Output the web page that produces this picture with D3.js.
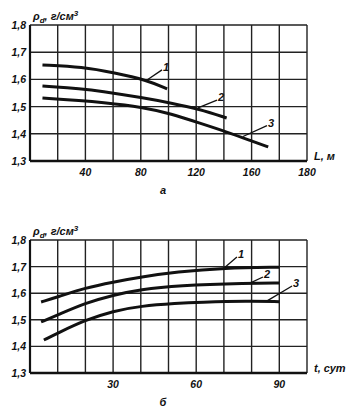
<!DOCTYPE html>
<html>
<head>
<meta charset="utf-8">
<script src="https://cdn.jsdelivr.net/npm/d3@7"></script>
<style>
  body { margin: 0; background: #fff; }
  svg text { font-family: "Liberation Sans", Arial, sans-serif; font-style: italic; font-weight: bold; fill: #111; }
</style>
</head>
<body>
<svg id="chart" width="354" height="413"></svg>
<script>
// chart a: density vs L, m
const topX1 = [9, 38, 61, 84, 99];
const topY1 = [1.653, 1.646, 1.624, 1.598, 1.565];
const topX2 = [9, 38, 50, 82, 102, 122, 142];
const topY2 = [1.576, 1.565, 1.558, 1.532, 1.513, 1.491, 1.458];
const topX3 = [9, 38, 50, 82, 102, 122, 142, 162, 172];
const topY3 = [1.532, 1.521, 1.516, 1.498, 1.473, 1.44, 1.407, 1.37, 1.352];
const topTickVals = [40, 80, 120, 160, 200];
const topTickLabels = ["40", "80", "120", "160", "180"];
// callouts: [x1, y1, x2, y2, label]
const topCallouts = [
  [84.5, 1.598, 95.3, 1.635, "1"],
  [121.3, 1.495, 135, 1.524, "2"],
  [153.8, 1.39, 171.1, 1.43, "3"],
];

// chart б: density vs t, days
const botX1 = [4, 10, 20, 30, 40, 53, 70, 90];
const botY1 = [1.567, 1.586, 1.62, 1.642, 1.661, 1.68, 1.695, 1.698];
const botX2 = [4, 10, 20, 30, 40, 53, 79, 90];
const botY2 = [1.492, 1.518, 1.563, 1.593, 1.614, 1.629, 1.638, 1.638];
const botX3 = [5, 10, 20, 30, 40, 53, 61, 79, 90];
const botY3 = [1.424, 1.45, 1.499, 1.533, 1.552, 1.562, 1.566, 1.571, 1.568];
const botTickVals = [30, 60, 90];
const botTickLabels = ["30", "60", "90"];
const botCallouts = [
  [70.4, 1.698, 74.7, 1.736, "1"],
  [79.4, 1.638, 84.1, 1.661, "2"],
  [85.6, 1.571, 94.6, 1.627, "3"],
];

const yTicks = [1.3, 1.4, 1.5, 1.6, 1.7, 1.8];

const svg = d3.select("#chart");

function drawPanel(cfg) {
  const g = svg.append("g");
  const x = d3.scaleLinear().domain(cfg.xDomain).range([30, 307]);
  const y = d3.scaleLinear().domain([1.3, 1.8]).range([cfg.bottom, cfg.top]);

  // grid
  const xGrid = d3.range(cfg.xDomain[0], cfg.xDomain[1] + 0.001, cfg.xStep);
  g.selectAll(".vg").data(xGrid).join("line")
    .attr("x1", d => x(d)).attr("x2", d => x(d))
    .attr("y1", y(1.3)).attr("y2", y(1.8))
    .attr("stroke", "#222").attr("stroke-width", 1.4);
  g.selectAll(".hg").data(yTicks).join("line")
    .attr("x1", x(cfg.xDomain[0])).attr("x2", x(cfg.xDomain[1]))
    .attr("y1", d => y(d)).attr("y2", d => y(d))
    .attr("stroke", "#222").attr("stroke-width", 1.4);

  // heavier frame on left and bottom
  g.append("line").attr("x1", x(cfg.xDomain[0])).attr("x2", x(cfg.xDomain[1]))
    .attr("y1", y(1.3)).attr("y2", y(1.3)).attr("stroke", "#111").attr("stroke-width", 2.6);
  g.append("line").attr("x1", x(cfg.xDomain[0])).attr("x2", x(cfg.xDomain[0]))
    .attr("y1", y(1.3)).attr("y2", y(1.8)).attr("stroke", "#111").attr("stroke-width", 2.2);

  // y labels
  g.selectAll(".yl").data(yTicks).join("text")
    .attr("x", 26).attr("y", d => y(d) + 4)
    .attr("text-anchor", "end").attr("font-size", 10.5)
    .text(d => d.toFixed(1).replace(".", ","));

  // x labels
  g.selectAll(".xl").data(cfg.tickVals).join("text")
    .attr("x", d => x(d)).attr("y", y(1.3) + 15)
    .attr("text-anchor", "middle").attr("font-size", 10.5)
    .text((d, i) => cfg.tickLabels[i]);

  // curves
  const line = d3.line().x(d => x(d[0])).y(d => y(d[1])).curve(d3.curveBasis);
  cfg.series.forEach(s => {
    g.append("path")
      .datum(s.xs.map((v, i) => [v, s.ys[i]]))
      .attr("fill", "none").attr("stroke", "#111")
      .attr("stroke-width", 3).attr("stroke-linecap", "butt")
      .attr("d", line);
  });

  // callouts
  cfg.callouts.forEach(c => {
    g.append("line")
      .attr("x1", x(c[0])).attr("y1", y(c[1]))
      .attr("x2", x(c[2])).attr("y2", y(c[3]))
      .attr("stroke", "#111").attr("stroke-width", 1.3);
    g.append("text")
      .attr("x", x(c[2]) + 1).attr("y", y(c[3]) + 1)
      .attr("font-size", 11).text(c[4]);
  });

  // y axis title
  const t = g.append("text").attr("x", 33).attr("y", cfg.top - 5).attr("font-size", 11);
  t.append("tspan").text("ρ");
  t.append("tspan").attr("dy", 3).attr("font-size", 8).text("d");
  t.append("tspan").attr("dy", -3).text(", г/см");
  t.append("tspan").attr("dy", -4).attr("font-size", 8).text("3");

  // x axis title
  g.append("text").attr("x", 314).attr("y", y(1.3) - 1)
    .attr("font-size", 11).text(cfg.xTitle);

  // panel caption
  g.append("text").attr("x", 163).attr("y", cfg.captionY)
    .attr("text-anchor", "middle").attr("font-size", 11).text(cfg.caption);
}

drawPanel({
  xDomain: [0, 200], xStep: 20, top: 25, bottom: 161,
  tickVals: topTickVals, tickLabels: topTickLabels,
  series: [
    { xs: topX1, ys: topY1 },
    { xs: topX2, ys: topY2 },
    { xs: topX3, ys: topY3 },
  ],
  callouts: topCallouts,
  xTitle: "L, м", caption: "а", captionY: 194,
});

drawPanel({
  xDomain: [0, 100], xStep: 10, top: 240, bottom: 373,
  tickVals: botTickVals, tickLabels: botTickLabels,
  series: [
    { xs: botX1, ys: botY1 },
    { xs: botX2, ys: botY2 },
    { xs: botX3, ys: botY3 },
  ],
  callouts: botCallouts,
  xTitle: "t, сут", caption: "б", captionY: 406,
});
</script>
</body>
</html>
